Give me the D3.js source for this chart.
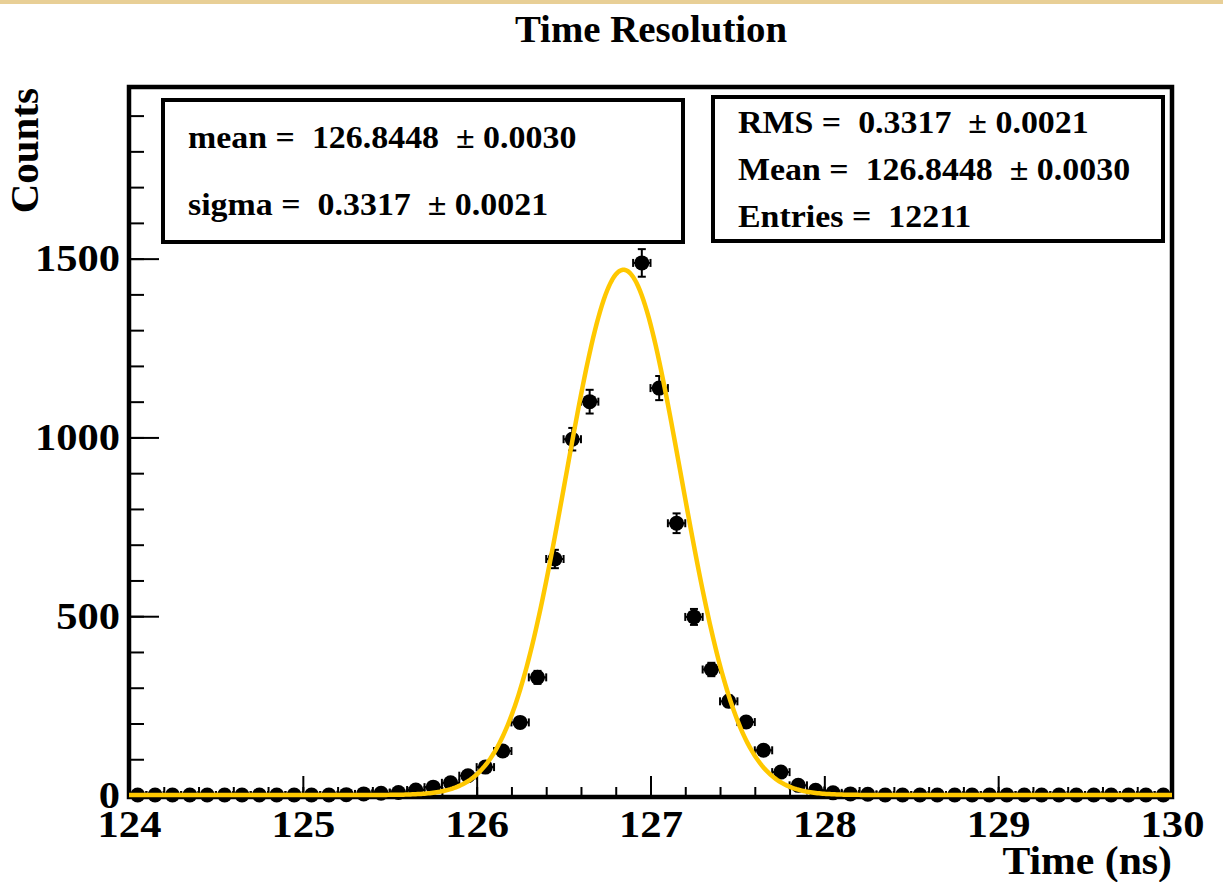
<!DOCTYPE html>
<html>
<head>
<meta charset="utf-8">
<title>Time Resolution</title>
<script src="https://cdn.jsdelivr.net/npm/d3@7"></script>
<style>
  html, body { margin: 0; padding: 0; background: #fff; }
  svg { display: block; }
  text { font-family: "Liberation Serif", "Times New Roman", serif; font-weight: bold; fill: #000; white-space: pre; }
</style>
</head>
<body>
<svg id="chart" width="1223" height="882"></svg>
<script>
;(function (window, document, undefined) {

  'use strict';

  // histogram bins (0.1 ns wide), centres in ns
  var binCenters = [
    124.05, 124.15, 124.25, 124.35, 124.45, 124.55, 124.65, 124.75, 124.85, 124.95,
    125.05, 125.15, 125.25, 125.35, 125.45, 125.55, 125.65, 125.75, 125.85, 125.95,
    126.05, 126.15, 126.25, 126.35, 126.45, 126.55, 126.65, 126.75, 126.85, 126.95,
    127.05, 127.15, 127.25, 127.35, 127.45, 127.55, 127.65, 127.75, 127.85, 127.95,
    128.05, 128.15, 128.25, 128.35, 128.45, 128.55, 128.65, 128.75, 128.85, 128.95,
    129.05, 129.15, 129.25, 129.35, 129.45, 129.55, 129.65, 129.75, 129.85, 129.95
  ];
  var counts = [
    0, 0, 0, 0, 0, 0, 0, 0, 0, 0,
    0, 0, 1, 3, 5, 7, 14, 22, 34, 54,
    78, 123, 203, 329, 660, 995, 1100, 1790, 1853, 1488,
    1138, 760, 498, 351, 262, 204, 125, 64, 27, 13,
    6, 3, 2, 0, 0, 0, 0, 0, 0, 0,
    0, 0, 0, 0, 0, 0, 0, 0, 0, 0
  ];
  var binHalfWidth = 0.05;

  // gaussian fit parameters
  var fitMean = 126.8448;
  var fitSigma = 0.3317;
  var fitConst = 1469;

  var xTicks = [124, 125, 126, 127, 128, 129, 130];
  var yTicks = [0, 500, 1000, 1500];

  var fitLines = ['mean =  126.8448  \u00b1 0.0030', 'sigma =  0.3317  \u00b1 0.0021'];
  var statLines = ['RMS =  0.3317  \u00b1 0.0021', 'Mean =  126.8448  \u00b1 0.0030', 'Entries =  12211'];

  var svg = d3.select('#chart');

  var x = d3.scaleLinear().domain([124, 130]).range([129, 1172]);
  var y = d3.scaleLinear().domain([0, 1980]).range([795, 87]);

  // the picture's text runs a bit wide, so stretch it horizontally
  var _wide = function (sel, sx) {
    sel.each(function () {
      var t = d3.select(this);
      var x0 = +t.attr('x') || 0;
      t.attr('x', x0 / sx).attr('transform', 'scale(' + sx + ',1)');
    });
  };

  // top strip of the slide
  svg.append('rect')
    .attr('x', 0).attr('y', 0).attr('width', 1223).attr('height', 4)
    .attr('fill', '#e8cf96');

  svg.append('g').attr('transform', 'translate(651,42)')
    .append('text')
    .attr('text-anchor', 'middle')
    .attr('transform', 'scale(1.05,1)')
    .style('font-size', '37px')
    .text('Time Resolution');

  // axes: minor ticks first, then major with labels
  var yMinor = d3.axisLeft(y).tickValues(d3.range(0, 2000, 100)).tickSize(-15).tickFormat('');
  var yMajor = d3.axisLeft(y).tickValues(yTicks).tickSizeInner(-30).tickSizeOuter(0).tickPadding(9).tickFormat(d3.format('d'));
  var xMinor = d3.axisBottom(x).tickValues(d3.range(124, 130.01, 0.2)).tickSize(-10).tickFormat('');
  var xMajor = d3.axisBottom(x).tickValues(xTicks).tickSizeInner(-21).tickSizeOuter(0).tickPadding(13).tickFormat(d3.format('d'));

  [yMinor, yMajor].forEach(function (ax) {
    svg.append('g').attr('transform', 'translate(' + x(124) + ',0)').call(ax);
  });
  [xMinor, xMajor].forEach(function (ax) {
    svg.append('g').attr('transform', 'translate(0,' + (y(0) + 2) + ')').call(ax);
  });
  svg.selectAll('.domain').remove();
  svg.selectAll('.tick line').attr('stroke', '#000').attr('stroke-width', 2);
  svg.selectAll('.tick text')
    .style('font-size', '38px')
    .style('font-family', '"Liberation Serif", "Times New Roman", serif')
    .style('font-weight', 'bold')
    .attr('fill', '#000')
    .call(_wide, 1.12);

  // frame
  svg.append('rect')
    .attr('x', x(124)).attr('y', y(1980))
    .attr('width', x(130) - x(124)).attr('height', y(0) + 2 - y(1980))
    .attr('fill', 'none').attr('stroke', '#000').attr('stroke-width', 4.5);

  // data points with error bars
  var pts = svg.append('g').selectAll('g')
    .data(binCenters.map(function (c, i) { return { x: c, y: counts[i], e: Math.sqrt(counts[i]) }; }))
    .join('g');

  pts.append('line')
    .attr('x1', function (d) { return x(d.x - binHalfWidth); })
    .attr('x2', function (d) { return x(d.x + binHalfWidth); })
    .attr('y1', function (d) { return y(d.y); })
    .attr('y2', function (d) { return y(d.y); });
  pts.append('line')
    .attr('x1', function (d) { return x(d.x); })
    .attr('x2', function (d) { return x(d.x); })
    .attr('y1', function (d) { return y(d.y - d.e); })
    .attr('y2', function (d) { return y(d.y + d.e); });
  [-binHalfWidth, binHalfWidth].forEach(function (off) {
    pts.append('line')
      .attr('x1', function (d) { return x(d.x + off); })
      .attr('x2', function (d) { return x(d.x + off); })
      .attr('y1', function (d) { return y(d.y) - 4; })
      .attr('y2', function (d) { return y(d.y) + 4; });
  });
  [-1, 1].forEach(function (s) {
    pts.filter(function (d) { return d.e > 0; }).append('line')
      .attr('x1', function (d) { return x(d.x) - 4; })
      .attr('x2', function (d) { return x(d.x) + 4; })
      .attr('y1', function (d) { return y(d.y + s * d.e); })
      .attr('y2', function (d) { return y(d.y + s * d.e); });
  });
  pts.selectAll('line').attr('stroke', '#000').attr('stroke-width', 2);
  pts.append('circle')
    .attr('cx', function (d) { return x(d.x); })
    .attr('cy', function (d) { return y(d.y); })
    .attr('r', 7.5)
    .attr('fill', '#000');

  // fit curve
  var gaus = function (t) {
    var u = (t - fitMean) / fitSigma;
    return fitConst * Math.exp(-0.5 * u * u);
  };
  svg.append('path')
    .datum(d3.range(124, 130.001, 0.01))
    .attr('d', d3.line().x(function (t) { return x(t); }).y(function (t) { return y(gaus(t)); }))
    .attr('fill', 'none')
    .attr('stroke', '#ffc800')
    .attr('stroke-width', 4.5);

  // stat boxes
  var _box = function (x0, y0, w, h, lines, baselines) {
    svg.append('rect')
      .attr('x', x0).attr('y', y0).attr('width', w).attr('height', h)
      .attr('fill', '#fff').attr('stroke', '#000').attr('stroke-width', 4);
    svg.append('g').selectAll('g')
      .data(lines)
      .join('g')
      .attr('transform', function (d, i) { return 'translate(' + (x0 + 25) + ',' + baselines[i] + ')'; })
      .append('text')
      .attr('transform', 'scale(1.06,1)')
      .style('font-size', '32px')
      .text(function (d) { return d; });
  };
  _box(163, 100, 520, 142, fitLines, [148, 215]);
  _box(713, 97, 450, 144, statLines, [133, 180, 227]);

  // axis titles
  svg.append('text')
    .attr('transform', 'translate(38,88) rotate(-90)')
    .attr('text-anchor', 'end')
    .style('font-size', '41px')
    .text('Counts');
  svg.append('g').attr('transform', 'translate(1172,874)')
    .append('text')
    .attr('text-anchor', 'end')
    .attr('transform', 'scale(1.07,1)')
    .style('font-size', '39px')
    .text('Time (ns)');

})(window, document);
</script>
</body>
</html>
